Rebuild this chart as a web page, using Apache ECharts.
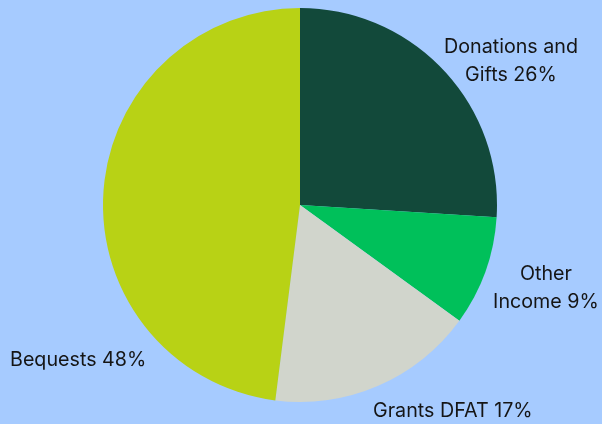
<!DOCTYPE html>
<html><head><meta charset="utf-8">
<script src="https://cdn.jsdelivr.net/npm/echarts@6/dist/echarts.min.js"></script>
<style>html,body{margin:0;padding:0;background:#a6cbff;}#c{width:602px;height:424px;}</style>
</head><body><div id="c"></div>
<script>
const categories = ["Donations and\nGifts", "Other\nIncome", "Grants DFAT", "Bequests"];
const values = [26, 9, 17, 48];
const colors = ["#12493a", "#00c05a", "#d1d5cc", "#b8d215"];
// label anchor placements (centre x, centre y, alignment)
const labelPlace = [
  {x: 511, y: 61, align: "center"},
  {x: 546, y: 288, align: "center"},
  {x: 373, y: 411, align: "left"},
  {x: 10, y: 360, align: "left"}
];
const chart = echarts.init(document.getElementById('c'), null, {renderer: 'canvas'});
chart.setOption({
  backgroundColor: "#a6cbff",
  animation: false,
  series: [{
    type: 'pie',
    center: [300, 205],
    radius: [0, 197],
    startAngle: 90,
    clockwise: true,
    avoidLabelOverlap: false,
    data: categories.map((c, i) => ({name: c, value: values[i], itemStyle: {color: colors[i]}})),
    itemStyle: {borderWidth: 0},
    label: {
      show: true,
      position: 'outside',
      formatter: p => p.name + ' ' + p.value + '%',
      fontFamily: 'Inter',
      fontSize: 19.7,
      lineHeight: 28,
      color: '#151515',
      align: 'center'
    },
    labelLine: {show: false},
    labelLayout: function (p) {
      const l = labelPlace[p.dataIndex];
      return {x: l.x, y: l.y, align: l.align, verticalAlign: 'middle'};
    },
    emphasis: {disabled: true}
  }]
});
</script></body></html>
